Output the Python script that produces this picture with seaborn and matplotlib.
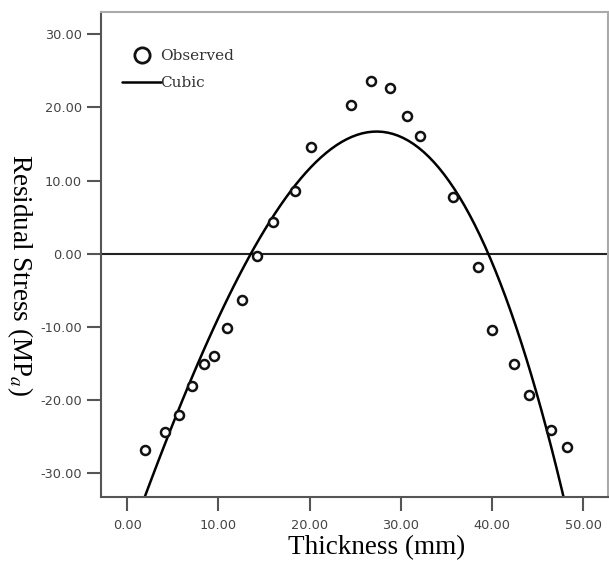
import numpy as np
import pandas as pd
import matplotlib
matplotlib.use("Agg")
import matplotlib.pyplot as plt
import seaborn as sns
from matplotlib.lines import Line2D
from matplotlib.ticker import FuncFormatter

thickness = [2.0, 4.2, 5.7, 7.1, 8.4, 9.5, 10.9, 12.6, 14.2, 16.0, 18.4, 20.2,
             24.6, 26.7, 28.8, 30.7, 32.1, 35.7, 38.5, 40.0, 42.4, 44.1, 46.5, 48.2]
stress = [-26.9, -24.4, -22.1, -18.1, -15.1, -14.0, -10.2, -6.4, -0.4, 4.3, 8.6, 14.6,
          20.4, 23.6, 22.6, 18.9, 16.1, 7.7, -1.9, -10.5, -15.1, -19.3, -24.1, -26.5]
x_ticks = [0, 10, 20, 30, 40, 50]
y_ticks = [-30, -20, -10, 0, 10, 20, 30]

df = pd.DataFrame({"Thickness": thickness, "Stress": stress})

sns.set_style("white")
plt.rcParams["mathtext.fontset"] = "stix"

fig = plt.figure(figsize=(6.09, 5.62), dpi=100)
ax = fig.add_axes([0.166, 0.116, 0.832, 0.863])
ax.set_xlim(-2.85, 52.7)
ax.set_ylim(-33.3, 33.1)

ax.axhline(0, color="#222222", lw=1.5, zorder=1)

# cubic fit of the observed points
sns.regplot(data=df, x="Thickness", y="Stress", order=3, ci=None, truncate=False,
            scatter=False, line_kws={"color": "black", "lw": 1.8}, ax=ax)
sns.scatterplot(data=df, x="Thickness", y="Stress", s=42, marker="o",
                facecolor="white", edgecolor="#111111", linewidth=1.8, ax=ax, zorder=3)

ax.set_xticks(x_ticks)
ax.set_yticks(y_ticks)
fmt = FuncFormatter(lambda v, p: f"{v:.2f}")
ax.xaxis.set_major_formatter(fmt)
ax.yaxis.set_major_formatter(fmt)
ax.tick_params(axis="both", direction="out", length=10, width=1.5, color="#555555",
               labelsize=9.3, labelcolor="#444444", bottom=True, left=True)
ax.tick_params(axis="y", pad=4)
ax.tick_params(axis="x", pad=6)

for side in ["left", "bottom"]:
    ax.spines[side].set_color("#555555")
    ax.spines[side].set_linewidth(1.5)
for side in ["top", "right"]:
    ax.spines[side].set_color("#aaaaaa")
    ax.spines[side].set_linewidth(1.5)

ax.set_xlabel("Thickness (mm)", family="Liberation Serif", fontsize=19.5, color="black")
ax.set_ylabel("Residual Stress (MP$_a$)", family="Liberation Serif", fontsize=19.5,
              color="black", rotation=270, va="center")
ax.xaxis.set_label_coords(0.544, -0.078)
ax.yaxis.set_label_coords(-0.16, 0.456)

handles = [
    Line2D([], [], ls="none", marker="o", markersize=11, markerfacecolor="white",
           markeredgecolor="#111111", markeredgewidth=2),
    Line2D([], [], color="black", lw=1.8),
]
leg = ax.legend(handles, ["Observed", "Cubic"], loc="upper left", frameon=False,
                prop={"family": "DejaVu Serif", "size": 11}, handlelength=2.5,
                handletextpad=0.0, labelspacing=0.85, borderaxespad=0.0,
                bbox_to_anchor=(0.03, 0.935))
for t in leg.get_texts():
    t.set_color("#333333")

fig.savefig("out.png", dpi=100)
